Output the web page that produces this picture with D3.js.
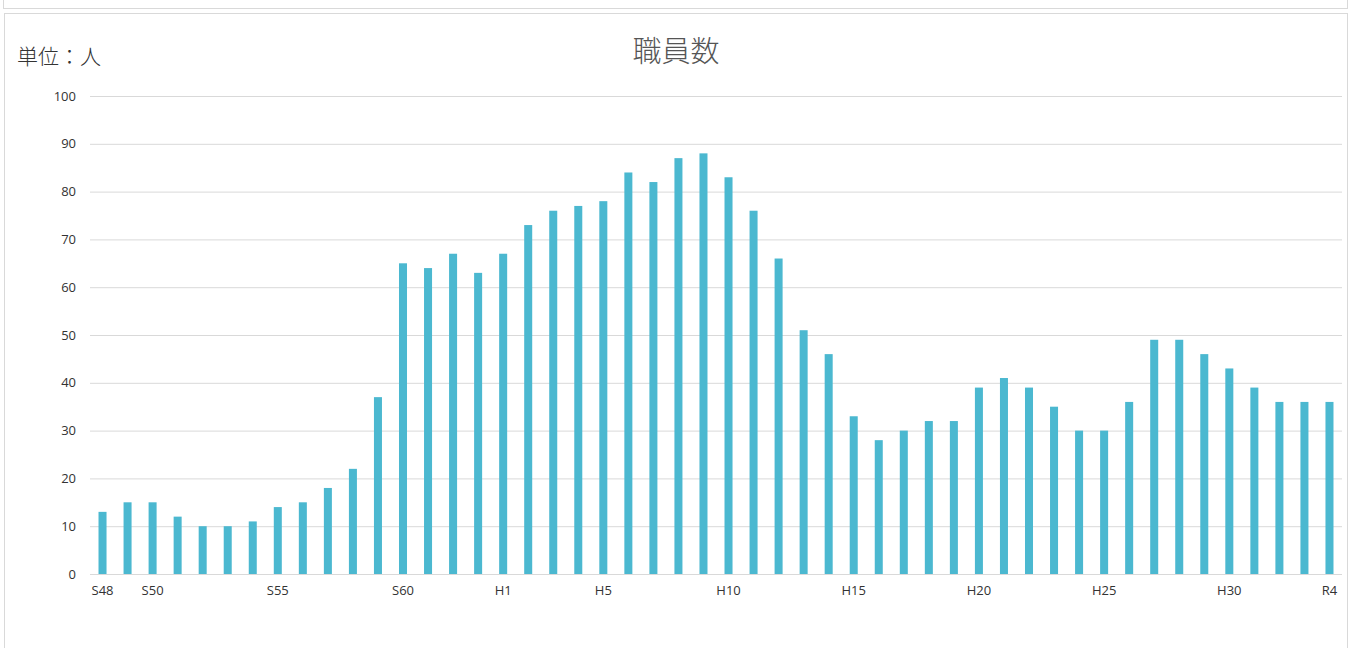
<!DOCTYPE html>
<html>
<head>
<meta charset="UTF-8">
<title>職員数</title>
<script src="https://cdnjs.cloudflare.com/ajax/libs/d3/7.8.5/d3.min.js"></script>
<style>
  body { margin: 0; background: #fff; font-family: "Noto Sans CJK JP", "Open Sans", sans-serif; }
  .grid line { stroke: #d9d9d9; stroke-width: 1; }
  .grid path { display: none; }
  .axis text { font-family: "Open Sans", "Noto Sans CJK JP", sans-serif; font-size: 13px; fill: #333; }
</style>
</head>
<body>
<script>
// data
var years = ["S48","S49","S50","S51","S52","S53","S54","S55","S56","S57","S58","S59",
  "S60","S61","S62","S63","H1","H2","H3","H4","H5","H6","H7","H8","H9","H10",
  "H11","H12","H13","H14","H15","H16","H17","H18","H19","H20","H21","H22","H23","H24",
  "H25","H26","H27","H28","H29","H30","R1","R2","R3","R4"];
var staff = [13,15,15,12,10,10,11,14,15,18,22,37,65,64,67,63,67,73,76,77,
  78,84,82,87,88,83,76,66,51,46,33,28,30,32,32,39,41,39,35,30,
  30,36,49,49,46,43,39,36,36,36];
var shownLabels = ["S48","S50","S55","S60","H1","H5","H10","H15","H20","H25","H30","R4"];
var yTicks = [0,10,20,30,40,50,60,70,80,90,100];

var W = 1354, H = 648;
var margin = {top: 96, right: 12, bottom: 74, left: 90};
var width = 1342 - margin.left, height = 574 - margin.top;

var svg = d3.select("body").append("svg")
    .attr("width", W).attr("height", H);

// panels
svg.append("rect").attr("x", 3.5).attr("y", -5).attr("width", 1344).attr("height", 13.5)
    .attr("fill", "none").attr("stroke", "#d9d9d9");
svg.append("rect").attr("x", 4.5).attr("y", 13.5).attr("width", 1343).attr("height", 650)
    .attr("fill", "none").attr("stroke", "#d9d9d9");

var g = svg.append("g").attr("transform", "translate(" + margin.left + "," + margin.top + ")");

var x = d3.scaleBand().domain(years).range([0, width]).paddingInner(0.68).paddingOuter(0.34);
var y = d3.scaleLinear().domain([0, 100]).range([height, 0]);

// gridlines
g.append("g").attr("class", "grid")
    .call(d3.axisLeft(y).tickValues(yTicks).tickSize(-width).tickFormat(""));

// y labels
g.append("g").attr("class", "axis")
    .call(d3.axisLeft(y).tickValues(yTicks).tickSize(0).tickPadding(14))
    .call(function(s) { s.select(".domain").remove(); });

// bars
g.selectAll(".bar").data(staff).enter().append("rect")
    .attr("class", "bar")
    .attr("x", function(d, i) { return x(years[i]); })
    .attr("width", x.bandwidth())
    .attr("y", function(d) { return y(d); })
    .attr("height", function(d) { return height - y(d); })
    .attr("fill", "#4bb8d0");

// x axis
var xa = g.append("g").attr("class", "axis")
    .attr("transform", "translate(0," + height + ")")
    .call(d3.axisBottom(x).tickSize(0).tickPadding(12)
      .tickFormat(function(d) { return shownLabels.indexOf(d) >= 0 ? d : ""; }));
xa.select(".domain").attr("stroke", "#d9d9d9").attr("d", "M0,0.5H" + width);

// titles
svg.append("text").attr("x", 676).attr("y", 62).attr("text-anchor", "middle")
    .attr("font-size", 29).attr("font-weight", 300).attr("fill", "#555").text("職員数");
svg.append("text").attr("x", 17).attr("y", 64)
    .attr("font-size", 21).attr("font-weight", 300).attr("fill", "#333").text("単位：人");
</script>
</body>
</html>
